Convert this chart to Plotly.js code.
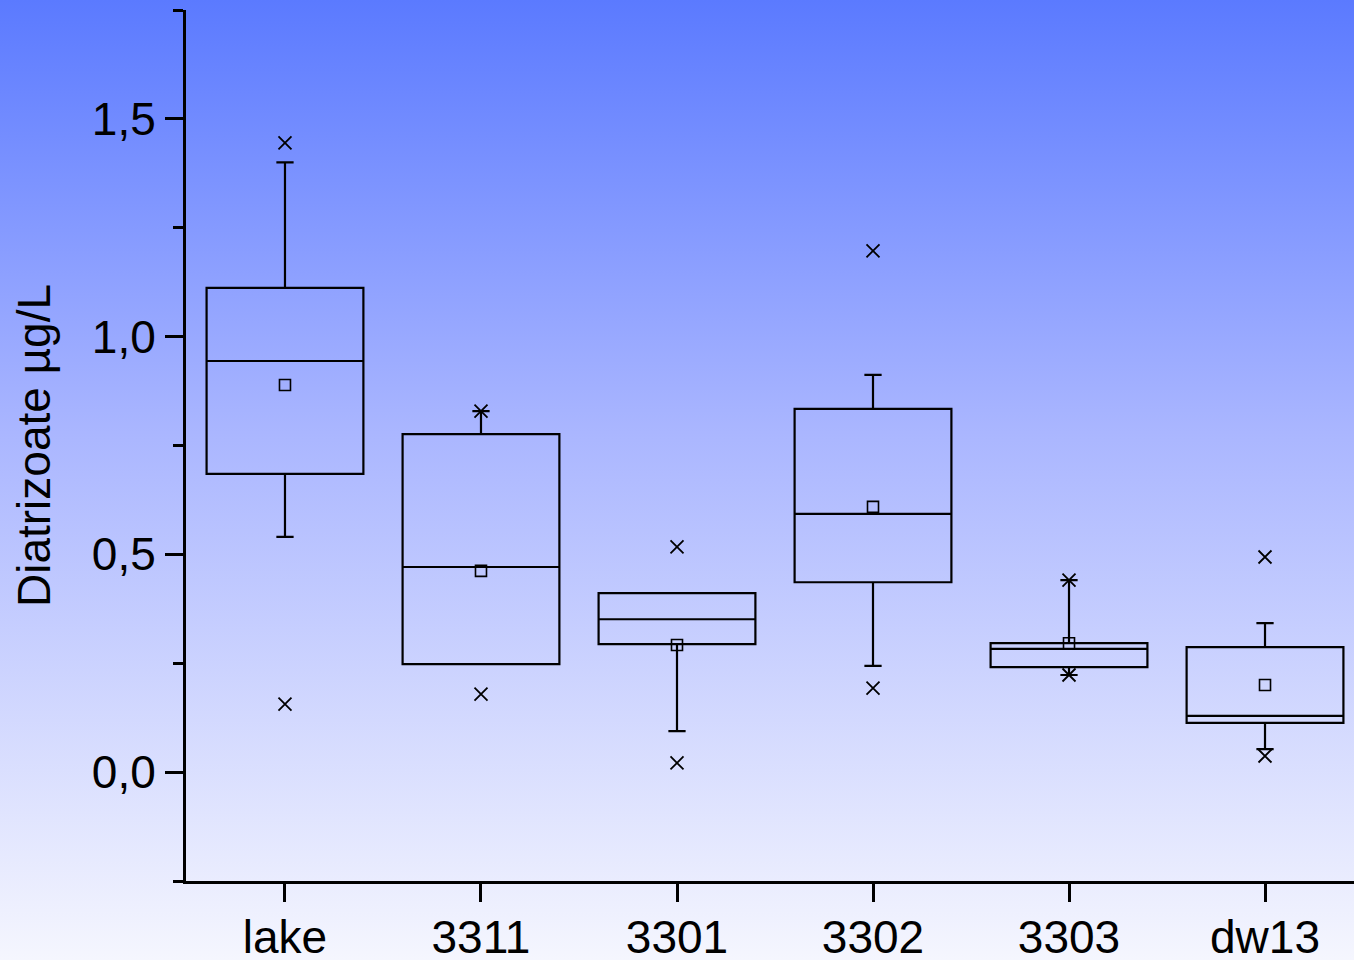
<!DOCTYPE html>
<html>
<head>
<meta charset="utf-8">
<script src="https://cdn.plot.ly/plotly-3.0.1.min.js"></script>
<style>
html, body { margin:0; padding:0; }
body { width:1354px; height:960px; overflow:hidden;
  background: linear-gradient(to bottom, rgb(91,122,255) 0%, rgb(170,182,255) 45%, rgb(245,246,254) 100%); }
#chart { width:1354px; height:960px; }
</style>
</head>
<body>
<div id="chart"></div>
<script>
const categories = ['lake', '3311', '3301', '3302', '3303', 'dw13'];
const q1Values     = [0.685, 0.248, 0.294, 0.436, 0.241, 0.113];
const medianValues = [0.944, 0.471, 0.351, 0.593, 0.283, 0.129];
const q3Values     = [1.112, 0.776, 0.411, 0.834, 0.296, 0.287];
const lowerWhisker = [0.540, 0.248, 0.094, 0.244, 0.223, 0.053];
const upperWhisker = [1.400, 0.829, 0.411, 0.912, 0.441, 0.342];
const meanValues   = [0.889, 0.462, 0.292, 0.609, 0.296, 0.200];
const minValues    = [0.156, 0.179, 0.021, 0.193, 0.223, 0.037];
const maxValues    = [1.445, 0.829, 0.517, 1.197, 0.441, 0.494];
const yTickValues  = [0, 0.5, 1.0, 1.5];
const yTickLabels  = ['0,0', '0,5', '1,0', '1,5'];
const yTitle = 'Diatrizoate µg/L';

const traces = [
  {
    type: 'box', x: categories,
    q1: q1Values, median: medianValues, q3: q3Values,
    lowerfence: lowerWhisker, upperfence: upperWhisker,
    boxpoints: false, whiskerwidth: 0.11,
    fillcolor: 'rgba(0,0,0,0)',
    line: { color: '#000', width: 2.2 },
    hoverinfo: 'skip', showlegend: false
  },
  {
    type: 'scatter', mode: 'markers', x: categories, y: meanValues,
    marker: { symbol: 'square-open', size: 11, color: '#000', line: { width: 1.6, color: '#000' } },
    showlegend: false
  },
  {
    type: 'scatter', mode: 'markers', x: categories.concat(categories), y: minValues.concat(maxValues),
    marker: { symbol: 'x-thin-open', size: 13, color: '#000', line: { width: 1.8, color: '#000' } },
    showlegend: false
  }
];

const layout = {
  width: 1354, height: 960,
  margin: { l: 186, r: 0, t: 10, b: 79, pad: 0 },
  paper_bgcolor: 'rgba(0,0,0,0)',
  plot_bgcolor: 'rgba(0,0,0,0)',
  font: { family: 'Liberation Sans, Arial, sans-serif', color: '#000', size: 46 },
  boxgap: 0.2, boxgroupgap: 0,
  showlegend: false,
  xaxis: {
    type: 'category', range: [-0.505, 5.454],
    showline: true, linecolor: '#000', linewidth: 3,
    ticks: 'outside', ticklen: 18, tickwidth: 3, tickcolor: '#000',
    ticklabelstandoff: -4,
    showgrid: false, zeroline: false,
    tickfont: { size: 46 }
  },
  yaxis: {
    range: [-0.25, 1.75],
    showline: true, linecolor: '#000', linewidth: 3,
    ticks: 'outside', ticklen: 18, tickwidth: 3, tickcolor: '#000',
    tickvals: yTickValues, ticktext: yTickLabels,
    minor: { tickvals: [-0.25, 0.25, 0.75, 1.25, 1.75], ticks: 'outside', ticklen: 10, tickwidth: 3, tickcolor: '#000', showgrid: false },
    showgrid: false, zeroline: false,
    tickfont: { size: 46 },
    title: { text: yTitle, font: { size: 46 }, standoff: 27 }
  }
};

Plotly.newPlot('chart', traces, layout, { displayModeBar: false, staticPlot: true });
</script>
</body>
</html>
